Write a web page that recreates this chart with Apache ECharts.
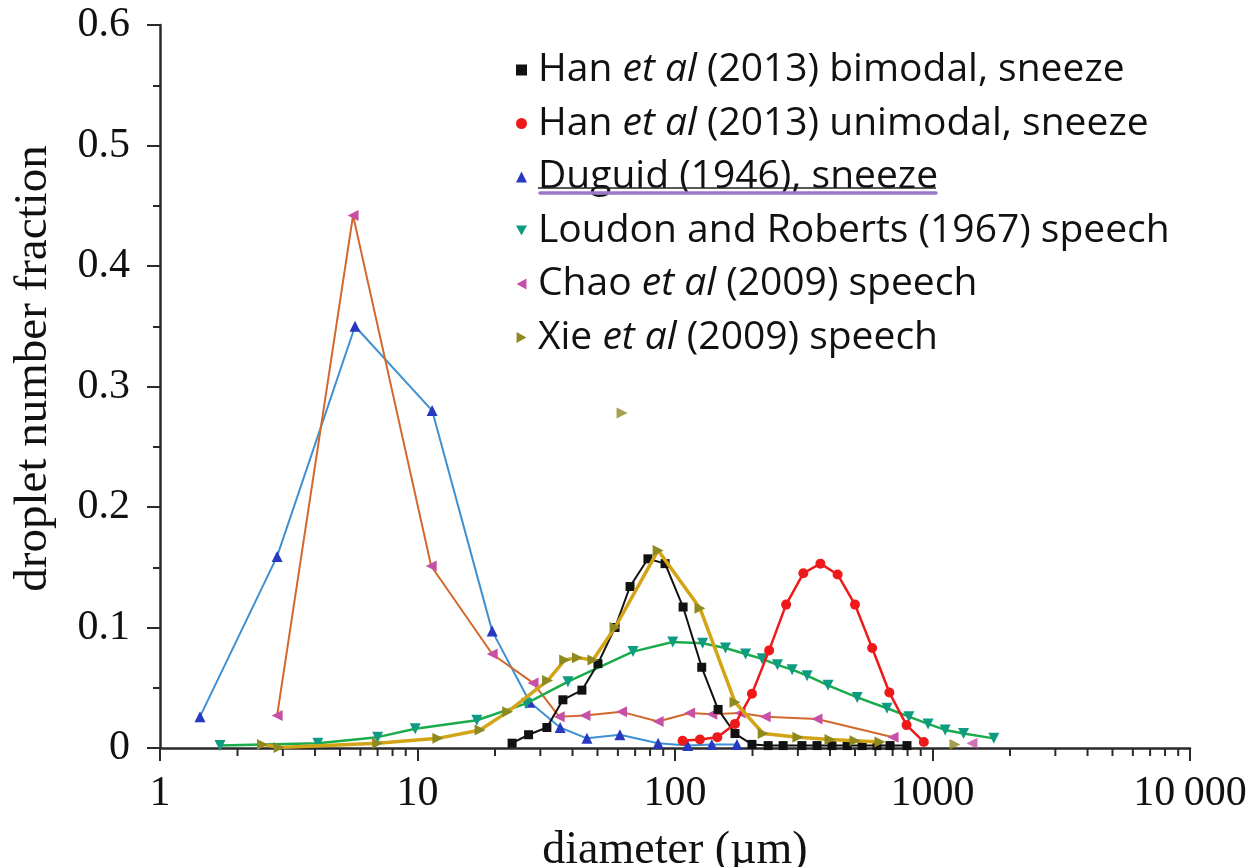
<!DOCTYPE html>
<html>
<head>
<meta charset="utf-8">
<script src="https://cdn.jsdelivr.net/npm/echarts@6/dist/echarts.min.js"></script>
<style>
html,body{margin:0;padding:0;background:#fff;}
#chart{width:1246px;height:867px;}
</style>
</head>
<body>
<div id="chart"></div>
<script>
// ---- data ----
const seriesNames = [
  'Han et al (2013) bimodal, sneeze',
  'Han et al (2013) unimodal, sneeze',
  'Duguid (1946), sneeze',
  'Loudon and Roberts (1967) speech',
  'Chao et al (2009) speech',
  'Xie et al (2009) speech'
];

const hanBiX = [23.3,27,31.8,36.7,43.5,50.2,58.5,66.9,78.5,91.5,107.5,127,147,171,199,230,263,311,356,407,466,533,609,684,796];
const hanBiY = [0.004,0.011,0.017,0.040,0.048,0.070,0.100,0.134,0.157,0.153,0.117,0.067,0.032,0.012,0.003,0.002,0.002,0.002,0.002,0.002,0.002,0.002,0.002,0.002,0.002];

const hanUniX = [107,125,146,171,199,232,270,315,367,428,500,583,680,793,925];
const hanUniY = [0.006,0.007,0.009,0.020,0.045,0.081,0.119,0.145,0.153,0.144,0.119,0.083,0.046,0.019,0.005];

const duguidX = [1.43,2.85,5.72,11.4,19.5,27.3,35.8,45.5,61.1,86,112,139,174];
const duguidY = [0.026,0.159,0.350,0.280,0.097,0.038,0.017,0.008,0.011,0.004,0.002,0.003,0.003];

const loudonX = [1.71,4.1,7.0,9.8,17.0,26.5,38.4,68.7,98,128,157,188,218,250,285,326,393,510,666,810,961,1120,1320,1730];
const loudonY = [0.002,0.004,0.009,0.016,0.023,0.037,0.055,0.080,0.088,0.087,0.083,0.078,0.074,0.069,0.065,0.060,0.052,0.042,0.033,0.026,0.020,0.015,0.012,0.008];

const chaoX = [2.85,5.62,11.3,19.5,28.1,35.5,44.7,62,86,114,139,179,224,356,703];
const chaoY = [0.027,0.442,0.151,0.078,0.054,0.026,0.027,0.030,0.022,0.029,0.028,0.029,0.026,0.024,0.009];
const chaoExtraX = [1423];
const chaoExtraY = [0.004];

const xieX = [2.5,2.9,7.0,12.0,17.5,22.4,32,37.3,41.8,48,58.5,86,125,171,220,300,400,500,625];
const xieY = [0.003,0.0005,0.004,0.008,0.015,0.030,0.056,0.073,0.075,0.073,0.100,0.164,0.116,0.038,0.012,0.009,0.007,0.006,0.005];
const xieExtraX = [62.3,1222];
const xieExtraY = [0.278,0.003];

const xMinorTicks = [2,3,4,5,6,7,8,9,20,30,40,50,60,70,80,90,200,300,400,500,600,700,800,900,2000,3000,4000,5000,6000,7000,8000,9000];

// ---- helpers ----
const zip = (xs, ys) => xs.map((x, i) => [x, ys[i]]);
const SYM_DOWN = 'path://M0,0L10,0L5,9Z';
const SYM_LEFT = 'path://M9,0L9,10L0,5Z';
const SYM_RIGHT = 'path://M0,0L0,10L9,5Z';
const SERIF = '"Liberation Serif","DejaVu Serif",serif';
const SANS = '"Open Sans",Lato,sans-serif';

const styles = [
  {line:'#111111', mark:'#111111', symbol:'rect', size:9, width:2},
  {line:'#ee1a1a', mark:'#ee1a1a', symbol:'circle', size:10, width:2.5},
  {line:'#3d90d2', mark:'#2838c0', symbol:'triangle', size:11, width:2},
  {line:'#1aab4a', mark:'#0f9a82', symbol:SYM_DOWN, size:11, width:2.5},
  {line:'#d2682c', mark:'#c750a6', symbol:SYM_LEFT, size:11, width:2},
  {line:'#d3a516', mark:'#8e8a20', symbol:SYM_RIGHT, size:11, width:3.5}
];

function lineSeries(i, data, z) {
  const s = styles[i];
  return {
    name: seriesNames[i], type: 'line', data: data, z: z,
    symbol: s.symbol, symbolSize: s.size, showSymbol: true,
    lineStyle: {color: s.line, width: s.width},
    itemStyle: {color: s.mark},
    emphasis: {disabled: true}, animation: false
  };
}
function extraSeries(i, data, z) {
  const s = styles[i];
  return {
    name: seriesNames[i], type: 'scatter', data: data, z: z,
    symbol: s.symbol, symbolSize: s.size,
    itemStyle: {color: s.mark}, animation: false
  };
}

const chart = echarts.init(document.getElementById('chart'), null, {renderer: 'canvas'});

const option = {
  backgroundColor: '#ffffff',
  animation: false,
  grid: {left: 160, right: 56, top: 25, bottom: 119, containLabel: false, outerBoundsMode: 'none'},
  legend: {
    orient: 'vertical', left: 511, top: 45,
    itemWidth: 11, itemHeight: 11, itemGap: 13.5,
    selectedMode: false,
    data: seriesNames.map((n, i) => ({name: n, icon: styles[i].symbol, itemStyle: {color: styles[i].mark}})),
    formatter: name => name.replace('et al', '{i|et al}'),
    textStyle: {
      fontFamily: SANS, fontSize: 39, color: '#111', lineHeight: 40, padding: [0,0,0,6],
      rich: {i: {fontFamily: SANS, fontSize: 39, fontStyle: 'italic', color: '#111', lineHeight: 40}}
    }
  },
  xAxis: {
    type: 'log', logBase: 10, min: 1, max: 10000,
    name: 'diameter (\u00b5m)', nameLocation: 'middle', nameGap: 80,
    nameTextStyle: {fontFamily: SERIF, fontSize: 46, color: '#111'},
    axisLine: {lineStyle: {color: '#2a2a2a', width: 2.5}},
    axisTick: {length: 13, lineStyle: {color: '#2a2a2a', width: 2}},
    axisLabel: {
      fontFamily: SERIF, fontSize: 42, color: '#111', margin: 25,
      formatter: v => { const r = Math.round(v); return r === 10000 ? '10\u2009000' : String(r); }
    },
    splitLine: {show: false}
  },
  yAxis: {
    type: 'value', min: 0, max: 0.6, interval: 0.1,
    name: 'droplet number fraction', nameLocation: 'middle', nameGap: 103,
    nameTextStyle: {fontFamily: SERIF, fontSize: 47, color: '#111', padding: [0,0,0,36]},
    axisLine: {show: true, lineStyle: {color: '#2a2a2a', width: 2.5}},
    axisTick: {show: true, length: 13, lineStyle: {color: '#2a2a2a', width: 2}},
    minorTick: {show: true, splitNumber: 2, length: 7, lineStyle: {color: '#2a2a2a', width: 2}},
    axisLabel: {
      fontFamily: SERIF, fontSize: 42, color: '#111', margin: 30,
      formatter: v => v === 0 ? '0' : v.toFixed(1)
    },
    splitLine: {show: false}
  },
  graphic: [
    {type: 'line', shape: {x1: 538, y1: 188, x2: 936, y2: 188}, style: {stroke: '#222', lineWidth: 1.5}, z: 100},
    {type: 'line', shape: {x1: 540, y1: 193, x2: 936, y2: 193}, style: {stroke: '#9a78c8', lineWidth: 3.5, lineCap: 'round'}, z: 100}
  ],
  series: [
    {
      type: 'custom', name: 'minorTicks', silent: true, clip: false, z: 1,
      data: xMinorTicks.map(v => [v, 0]),
      encode: {x: 0, y: 1},
      renderItem: (params, api) => {
        const p = api.coord([api.value(0), 0]);
        return {type: 'line', shape: {x1: p[0], y1: p[1], x2: p[0], y2: p[1] + 8},
                style: {stroke: '#2a2a2a', lineWidth: 2}};
      },
      animation: false
    },
    lineSeries(2, zip(duguidX, duguidY), 2),
    lineSeries(4, zip(chaoX, chaoY), 3),
    extraSeries(4, zip(chaoExtraX, chaoExtraY), 3),
    lineSeries(3, zip(loudonX, loudonY), 4),
    lineSeries(0, zip(hanBiX, hanBiY), 5),
    lineSeries(1, zip(hanUniX, hanUniY), 6),
    lineSeries(5, zip(xieX, xieY), 7),
    extraSeries(5, zip(xieExtraX, xieExtraY), 7)
  ]
};
chart.setOption(option);
</script>
</body>
</html>
